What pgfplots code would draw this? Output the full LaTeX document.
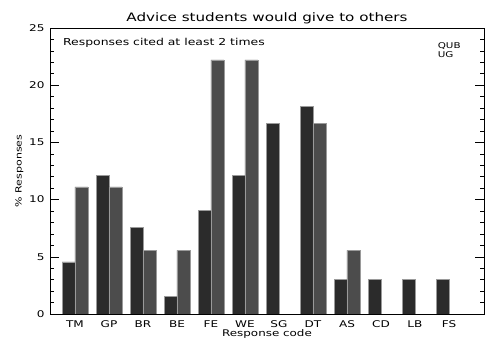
\documentclass[border=0pt]{standalone}
\usepackage{fontspec}
\setmainfont{DejaVu Sans}[FakeStretch=1.3]
\usepackage{pgfplots}
\pgfplotsset{compat=1.18}
\definecolor{darkbar}{HTML}{2B2B2B}
\definecolor{lightbar}{HTML}{4C4C4C}
\definecolor{edge}{HTML}{9A9A9A}
\begin{document}
\begin{tikzpicture}
\begin{axis}[
  scale only axis,
  width=434bp, height=286bp,
  at={(0,0)}, anchor=south west,
  xmin=-0.735, xmax=12.03,
  ymin=0, ymax=25,
  xtick={0,1,2,3,4,5,6,7,8,9,10,11},
  xticklabels={TM,GP,BR,BE,FE,WE,SG,DT,AS,CD,LB,FS},
  x tick style={draw=none},
  ytick={0,5,10,15,20,25},
  minor y tick num=4,
  ytick pos=both,
  tick align=inside,
  major tick length=9bp,
  minor tick length=4bp,
  tick style={black, line width=0.6pt},
  axis line style={black, line width=0.6pt},
  /pgf/number format/assume math mode=true,
  ticklabel style={font=\fontsize{9.3}{10}\selectfont},
  xticklabel style={yshift=6bp},
  yticklabel style={xshift=-2bp},
  xlabel={Response code},
  xlabel style={font=\fontsize{9.2}{10}\selectfont, yshift=5bp},
  ylabel={\% Responses},
  ylabel style={font=\fontsize{8.5}{9}\selectfont, yshift=-1bp},
  title={Advice students would give to others},
  title style={font=\fontsize{11.7}{12}\selectfont, yshift=-5bp},
  ybar, bar width=0.38,
]
% first group of respondents
\addplot[fill=darkbar, draw=edge, line width=0.6pt, bar shift=-0.19] coordinates {
  (0,4.55) (1,12.12) (2,7.58) (3,1.52) (4,9.09) (5,12.12)
  (6,16.67) (7,18.18) (8,3.03) (9,3.03) (10,3.03) (11,3.03)};
% second group of respondents
\addplot[fill=lightbar, draw=edge, line width=0.6pt, bar shift=0.19] coordinates {
  (0,11.11) (1,11.11) (2,5.56) (3,5.56) (4,22.22) (5,22.22)
  (7,16.67) (8,5.56)};
\node[anchor=north west, font=\fontsize{9.6}{10}\selectfont] at (rel axis cs:0.022,0.975) {Responses cited at least 2 times};
\node[anchor=north west, align=left, font=\fontsize{8}{9}\selectfont, inner sep=0pt] at (rel axis cs:0.893,0.948) {QUB\\UG};
\end{axis}
\pgfresetboundingbox
\path (-50bp,-26bp) rectangle (435bp,314bp);
\end{tikzpicture}
\end{document}
